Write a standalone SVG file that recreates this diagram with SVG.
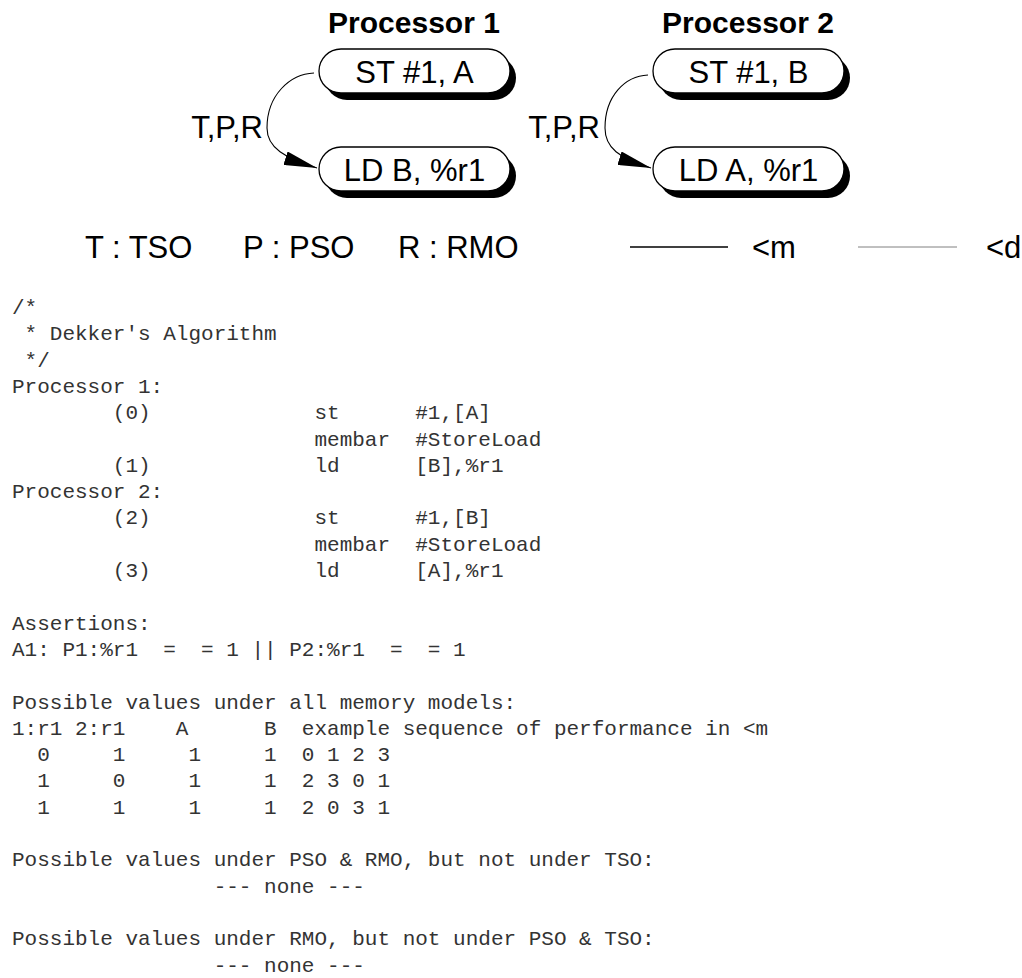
<svg xmlns="http://www.w3.org/2000/svg" width="1022" height="978" viewBox="0 0 1022 978">
<style>
.bg{fill:#fff}
.title{font-family:"Liberation Sans",Arial,sans-serif;font-weight:bold;font-size:30px;fill:#000;text-anchor:middle}
.lbl{font-family:"Liberation Sans",Arial,sans-serif;font-size:31px;fill:#000}
.pill{fill:#fff;stroke:#000;stroke-width:1.3}
.shadow{fill:#000}
.ntext{font-family:"Liberation Sans",Arial,sans-serif;font-size:31px;fill:#000;text-anchor:middle}
.edge{fill:none;stroke:#000;stroke-width:1.1;marker-end:url(#arr)}
.code{font-family:"Liberation Mono","Courier New",monospace;font-size:21px;fill:#333;white-space:pre}
.code text{white-space:pre}
</style>
<defs>
<marker id="arr" viewBox="0 0 33 14" refX="33" refY="7" markerWidth="33" markerHeight="14" markerUnits="userSpaceOnUse" orient="auto">
<path d="M0,0 L33,7 L0,14 z" fill="#000"/>
</marker>
</defs>
<rect class="bg" x="0" y="0" width="1022" height="978"/>

<text class="title" x="414" y="33">Processor 1</text>
<text class="title" x="748" y="33">Processor 2</text>

<g id="p1-st">
<rect class="shadow" x="325" y="56" width="191" height="44" rx="22"/>
<rect class="pill" x="319" y="49" width="191" height="44" rx="22"/>
<text class="ntext" x="414.5" y="83">ST #1, A</text>
</g>
<g id="p1-ld">
<rect class="shadow" x="325" y="154" width="191" height="44" rx="22"/>
<rect class="pill" x="319" y="147" width="191" height="44" rx="22"/>
<text class="ntext" x="414.5" y="181">LD B, %r1</text>
</g>
<g id="p2-st">
<rect class="shadow" x="659" y="56" width="191" height="44" rx="22"/>
<rect class="pill" x="653" y="49" width="191" height="44" rx="22"/>
<text class="ntext" x="748.5" y="83">ST #1, B</text>
</g>
<g id="p2-ld">
<rect class="shadow" x="659" y="154" width="191" height="44" rx="22"/>
<rect class="pill" x="653" y="147" width="191" height="44" rx="22"/>
<text class="ntext" x="748.5" y="181">LD A, %r1</text>
</g>

<g id="connectors">
<path class="edge" d="M314,73 C290,74 267,95 267,128 C267,148 285,158 317,168"/>
<path class="edge" d="M648,75 C625,76 605,96 605,128 C605,148 619,158 651,168"/>
<text class="lbl" x="263" y="138" text-anchor="end">T,P,R</text>
<text class="lbl" x="600" y="138" text-anchor="end">T,P,R</text>
</g>

<g id="legend">
<text class="lbl" x="85" y="258">T : TSO</text>
<text class="lbl" x="243" y="258">P : PSO</text>
<text class="lbl" x="398" y="258">R : RMO</text>
<line x1="630" y1="247" x2="728" y2="247" stroke="#000" stroke-width="1.5"/>
<text class="lbl" x="752" y="258">&lt;m</text>
<line x1="858" y1="247" x2="957" y2="247" stroke="#808080" stroke-width="1"/>
<text class="lbl" x="986" y="258">&lt;d</text>
</g>

<g id="listing" class="code">
<text xml:space="preserve" x="12" y="314">/*</text>
<text xml:space="preserve" x="12" y="340.3"> * Dekker's Algorithm</text>
<text xml:space="preserve" x="12" y="366.6"> */</text>
<text xml:space="preserve" x="12" y="392.9">Processor 1:</text>
<text xml:space="preserve" x="12" y="419.2">        (0)             st      #1,[A]</text>
<text xml:space="preserve" x="12" y="445.5">                        membar  #StoreLoad</text>
<text xml:space="preserve" x="12" y="471.8">        (1)             ld      [B],%r1</text>
<text xml:space="preserve" x="12" y="498.1">Processor 2:</text>
<text xml:space="preserve" x="12" y="524.4">        (2)             st      #1,[B]</text>
<text xml:space="preserve" x="12" y="550.7">                        membar  #StoreLoad</text>
<text xml:space="preserve" x="12" y="577">        (3)             ld      [A],%r1</text>
<text xml:space="preserve" x="12" y="629.6">Assertions:</text>
<text xml:space="preserve" x="12" y="655.9">A1: P1:%r1  =  = 1 || P2:%r1  =  = 1</text>
<text xml:space="preserve" x="12" y="708.5">Possible values under all memory models:</text>
<text xml:space="preserve" x="12" y="734.8">1:r1 2:r1    A      B  example sequence of performance in &lt;m</text>
<text xml:space="preserve" x="12" y="761.1">  0     1     1     1  0 1 2 3</text>
<text xml:space="preserve" x="12" y="787.4">  1     0     1     1  2 3 0 1</text>
<text xml:space="preserve" x="12" y="813.7">  1     1     1     1  2 0 3 1</text>
<text xml:space="preserve" x="12" y="866.3">Possible values under PSO &amp; RMO, but not under TSO:</text>
<text xml:space="preserve" x="12" y="892.6">                --- none ---</text>
<text xml:space="preserve" x="12" y="945.2">Possible values under RMO, but not under PSO &amp; TSO:</text>
<text xml:space="preserve" x="12" y="971.5">                --- none ---</text>
</g>
</svg>
